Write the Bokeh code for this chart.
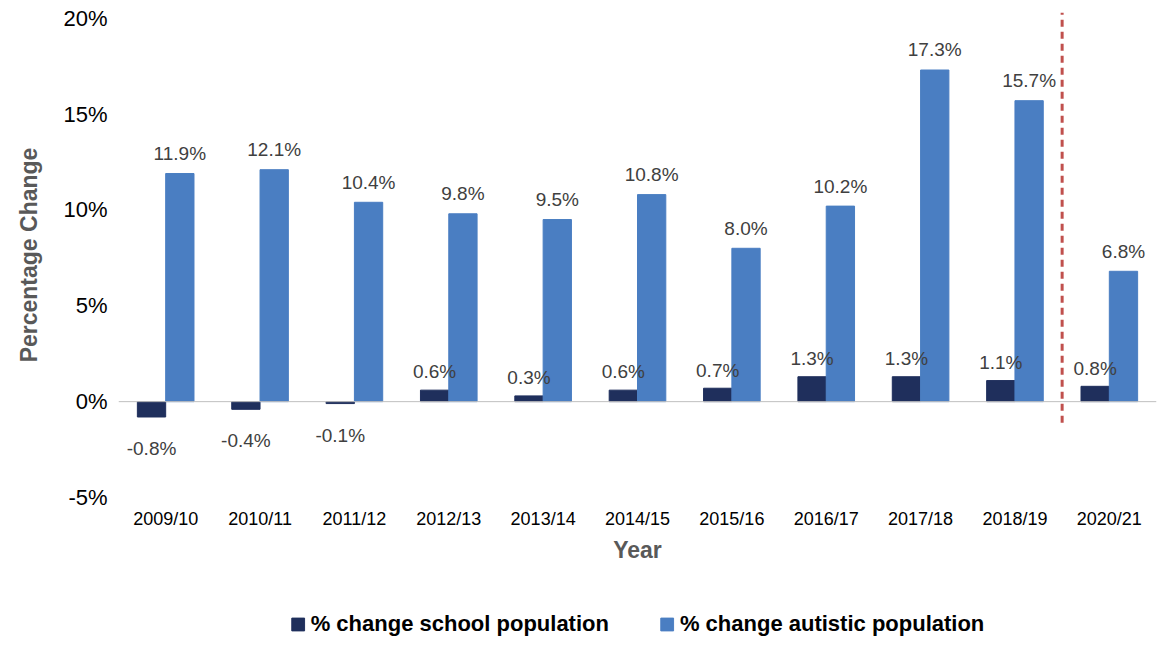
from bokeh.plotting import figure
from bokeh.layouts import column
from bokeh.models import ColumnDataSource, Span, Legend, LegendItem, FixedTicker, LabelSet
from bokeh.core.properties import value
from bokeh.embed import file_html
from bokeh.resources import INLINE

years = ["2009/10", "2010/11", "2011/12", "2012/13", "2013/14", "2014/15",
         "2015/16", "2016/17", "2017/18", "2018/19", "2020/21"]
school = [-0.8, -0.4, -0.1, 0.6, 0.3, 0.6, 0.7, 1.3, 1.3, 1.1, 0.8]
autistic = [11.9, 12.1, 10.4, 9.8, 9.5, 10.8, 8.0, 10.2, 17.3, 15.7, 6.8]

DARK = "#1F2F5C"
BLUE = "#4A7EC2"

idx = list(range(len(years)))
src = ColumnDataSource(dict(
    xs=[i - 0.15 for i in idx], xa=[i + 0.15 for i in idx],
    school=school, autistic=autistic,
    ls=[f"{v:.1f}%" for v in school], la=[f"{v:.1f}%" for v in autistic],
    ys=[v + 0.4 if v >= 0 else v - 2.2 for v in school],
    ya=[v + 0.5 for v in autistic],
))

p = figure(width=1158, height=565, x_range=(-0.5, 10.5), y_range=(-5, 20.3),
           output_backend="svg", toolbar_location=None,
           min_border_left=118, min_border_right=2, min_border_top=12)
p.grid.visible = False
p.outline_line_color = None

p.vbar(x="xs", top="school", width=0.3, source=src, color=DARK)
p.vbar(x="xa", top="autistic", width=0.3, source=src, color=BLUE)

p.add_layout(Span(location=0, dimension="width", line_color="#BFBFBF", line_width=1))
p.segment(x0=[9.5], y0=[-1.1], x1=[9.5], y1=[20.3], line_color="#C0504D",
          line_width=3, line_dash="7 5")

for col, ycol, xcol in [("ls", "ys", "xs"), ("la", "ya", "xa")]:
    p.add_layout(LabelSet(x=xcol, y=ycol, text=col, source=src, text_align="center",
                          text_baseline="bottom",
                          text_font=value("Liberation Sans"), text_font_size="19px",
                          text_color="#404040"))

p.yaxis.ticker = FixedTicker(ticks=[-5, 0, 5, 10, 15, 20])
p.yaxis.major_label_overrides = {v: f"{v}%" for v in [-5, 0, 5, 10, 15, 20]}
p.xaxis.ticker = FixedTicker(ticks=idx)
p.xaxis.major_label_overrides = {i: y for i, y in enumerate(years)}
for ax in (p.xaxis, p.yaxis):
    ax.axis_line_color = None
    ax.major_tick_line_color = None
    ax.minor_tick_line_color = None
    ax.major_label_text_font = "Liberation Sans"
    ax.major_label_text_color = "#000000"
    ax.axis_label_text_font = "Liberation Sans"
    ax.axis_label_text_font_style = "bold"
    ax.axis_label_text_color = "#595959"
    ax.axis_label_text_font_size = "23px"
p.yaxis.major_label_text_font_size = "22px"
p.yaxis.axis_label_standoff = 18
p.xaxis.major_label_text_font_size = "18px"
p.xaxis.axis_label = "Year"
p.yaxis.axis_label = "Percentage Change"

# legend in its own strip below the chart
lg = figure(width=1158, height=72, x_range=(0, 1), y_range=(0, 1),
            output_backend="svg", toolbar_location=None, min_border=0)
lg.axis.visible = False
lg.grid.visible = False
lg.outline_line_color = None
r1 = lg.rect([-5], [-5], 1, 1, color=DARK)
r2 = lg.rect([-5], [-5], 1, 1, color=BLUE)
legend = Legend(items=[LegendItem(label="% change school population", renderers=[r1]),
                       LegendItem(label="% change autistic population", renderers=[r2])],
                orientation="horizontal", location="bottom", spacing=50, margin=0,
                label_text_font="Liberation Sans", label_text_font_style="bold",
                label_text_font_size="22px", label_text_color="#000000",
                border_line_color=None, background_fill_alpha=0,
                glyph_width=16, glyph_height=16)
lg.add_layout(legend)

open("out.html", "w").write(file_html(column(p, lg, spacing=0), INLINE))
